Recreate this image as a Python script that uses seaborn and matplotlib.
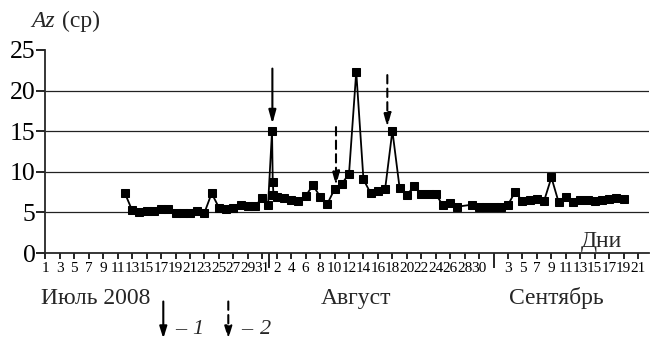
import matplotlib
matplotlib.use("Agg")
import matplotlib.pyplot as plt
import seaborn as sns
import numpy as np
import pandas as pd

# ---- data: day number counted from 1 July 2008 (1 = 1 July, 32 = 1 Aug, 63 = 1 Sep)
day = [12, 13, 14, 15, 16, 17, 18, 19, 20, 21, 22, 23, 24, 25, 26, 27, 28, 29, 30, 31,
       31.8, 32.35, 32.45, 32.55,
       33, 34, 35, 36, 37, 38, 39, 40, 41, 42, 43, 44, 45, 46, 47, 48, 49, 50, 51, 52,
       53, 54, 55, 56, 57, 58, 60, 61, 62,
       63, 64, 65, 66, 67, 68, 69, 70, 71, 72, 73, 74, 75, 76, 77, 78, 79, 80, 81]
az = [7.35, 5.25, 5.1, 5.2, 5.2, 5.45, 5.4, 4.9, 4.9, 4.9, 5.15, 4.95, 7.35, 5.6, 5.4, 5.6, 5.9, 5.8, 5.8, 6.75,
      5.9, 15.0, 8.8, 7.2,
      6.95, 6.75, 6.55, 6.35, 7.0, 8.35, 6.95, 6.05, 7.85, 8.5, 9.75, 22.3, 9.05, 7.35, 7.65, 7.9, 15.05, 8.0, 7.1, 8.25,
      7.25, 7.25, 7.25, 5.85, 6.1, 5.7, 5.95, 5.7, 5.7,
      5.7, 5.7, 5.95, 7.55, 6.35, 6.55, 6.65, 6.45, 9.3, 6.25, 6.85, 6.25, 6.55, 6.55, 6.35, 6.55, 6.65, 6.8, 6.6]

y_ticks = [0, 5, 10, 15, 20, 25]
grid_levels = [5, 10, 15, 20]

# x tick labels: odd days in July, even days in August, odd days in September
july_days = list(range(1, 32, 2))
aug_days = list(range(2, 31, 2))
sep_days = list(range(3, 22, 2))
month_starts = [32, 63]          # separators: 1 Aug, 1 Sep
month_names = ["Июль 2008", "Август", "Сентябрь"]

# arrows: (day, top value, tip value)
solid_arrow = [(32.4, 22.7, 15.9)]
dashed_arrows = [(41.2, 15.5, 8.3), (48.3, 21.9, 15.5)]

tick_pos = july_days + [31 + d for d in aug_days] + [62 + d for d in sep_days]
tick_lab = [str(d) for d in july_days] + [str(d) for d in aug_days] + [str(d) for d in sep_days]

# ---- style
sns.set_style("ticks")
plt.rcParams["font.family"] = ["Liberation Serif", "DejaVu Serif"]
plt.rcParams["axes.linewidth"] = 1.3

W, H = 652, 342
fig = plt.figure(figsize=(W / 100, H / 100), dpi=100)
ax_left, ax_right = 45.4, 649.0
ax_bottom, ax_top = 253.0, 49.9
ax = fig.add_axes([ax_left / W, 1 - ax_bottom / H, (ax_right - ax_left) / W, (ax_bottom - ax_top) / H])

df = pd.DataFrame({"day": day, "az": az})
sns.lineplot(data=df, x="day", y="az", ax=ax, color="black", linewidth=1.3,
             marker="s", markersize=5.5, markeredgecolor="black", markerfacecolor="black",
             estimator=None, sort=False)

xmax = 84.5
ax.set_xlim(1, xmax)
ax.set_ylim(0, 25)
ax.hlines(grid_levels, 1, xmax, colors="#222222", linewidth=0.9, zorder=0)

sns.despine(ax=ax, top=True, right=True)

ax.set_yticks(y_ticks)
ax.set_yticklabels([str(v) for v in y_ticks], fontsize=18.5)
ax.tick_params(axis="y", direction="out", length=6.5, width=1.2, pad=0.5, colors="black")

ax.set_xticks(tick_pos)
ax.set_xticklabels(tick_lab, fontsize=11)
ax.tick_params(axis="x", direction="out", length=4.5, width=1.2, pad=2, colors="black")
ax.set_xticks(month_starts, minor=True)
ax.tick_params(axis="x", which="minor", direction="out", length=11, width=1.4)

ax.set_xlabel("")
ax.set_ylabel("")

# arrows in the chart
for d, top, tip in solid_arrow:
    ax.annotate("", xy=(d, tip), xytext=(d, top),
                arrowprops=dict(arrowstyle="-|>,head_length=0.8,head_width=0.22", color="black", lw=1.5,
                                shrinkA=0, shrinkB=0))
for d, top, tip in dashed_arrows:
    ax.annotate("", xy=(d, tip), xytext=(d, top),
                arrowprops=dict(arrowstyle="-|>,head_length=0.8,head_width=0.22", color="black", lw=1.5,
                                linestyle=(0, (4, 2.5)), shrinkA=0, shrinkB=0))

# axis titles
fig.text(31 / W, 1 - 27 / H, "Az", fontsize=17, style="italic", va="baseline", ha="left")
fig.text(62 / W, 1 - 27 / H, "(ср)", fontsize=17, va="baseline", ha="left")
ax.text(80.8, 0.8, "Дни", fontsize=17, ha="right", va="baseline")

# month labels
fig.text(41 / W, 1 - 304 / H, month_names[0], fontsize=17, va="baseline", ha="left")
fig.text(321 / W, 1 - 304 / H, month_names[1], fontsize=17, va="baseline", ha="left")
fig.text(509 / W, 1 - 304 / H, month_names[2], fontsize=17, va="baseline", ha="left")

# legend below
ax.annotate("", xy=(163.3 / W, 1 - 338.5 / H), xytext=(163.3 / W, 1 - 301.5 / H),
            xycoords="figure fraction", textcoords="figure fraction", annotation_clip=False,
            arrowprops=dict(arrowstyle="-|>,head_length=0.7,head_width=0.22", color="black", lw=1.5,
                            shrinkA=0, shrinkB=0))
ax.annotate("", xy=(228.3 / W, 1 - 338.5 / H), xytext=(228.3 / W, 1 - 301.5 / H),
            xycoords="figure fraction", textcoords="figure fraction", annotation_clip=False,
            arrowprops=dict(arrowstyle="-|>,head_length=0.7,head_width=0.22", color="black", lw=1.5,
                            linestyle=(0, (4, 2.5)), shrinkA=0, shrinkB=0))
fig.text(175 / W, 1 - 334 / H, "–", fontsize=16, va="baseline", ha="left")
fig.text(192 / W, 1 - 334 / H, "1", fontsize=16, style="italic", va="baseline", ha="left")
fig.text(241 / W, 1 - 334 / H, "–", fontsize=16, va="baseline", ha="left")
fig.text(260 / W, 1 - 334 / H, "2", fontsize=16, style="italic", va="baseline", ha="left")

fig.savefig("out.png", dpi=100)
